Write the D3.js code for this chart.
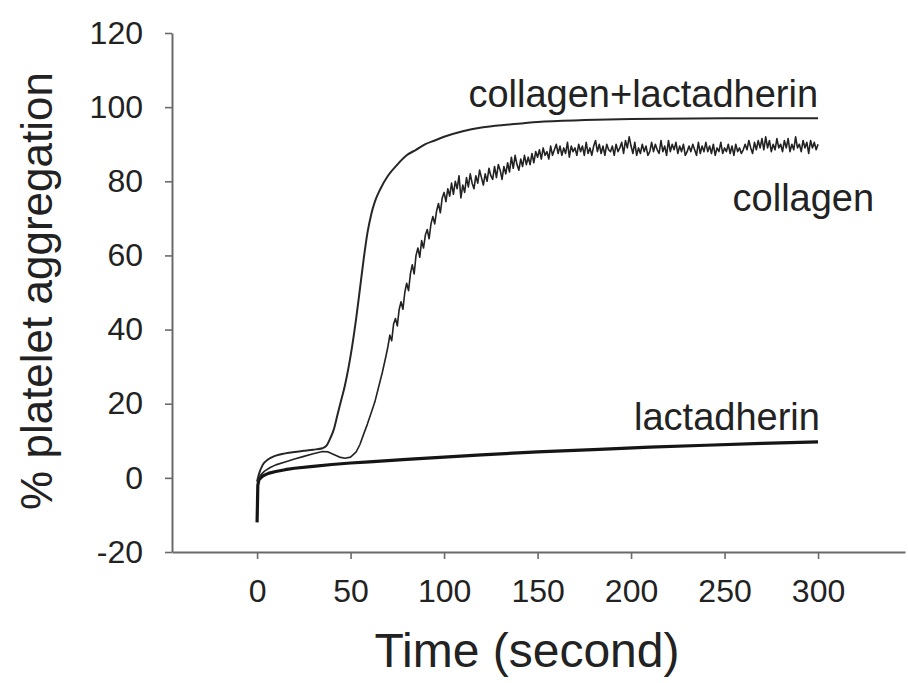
<!DOCTYPE html>
<html>
<head>
<meta charset="utf-8">
<script src="https://cdn.jsdelivr.net/npm/d3@7"></script>
<style>
  html, body { margin: 0; padding: 0; background: #fff; }
  svg { display: block; }
  text { font-family: "Liberation Sans", Arial, sans-serif; fill: #222; }
</style>
</head>
<body>
<svg id="chart" width="908" height="683"></svg>
<script>
// ---- data ----
const xTicks = [0, 50, 100, 150, 200, 250, 300];
const yTicks = [-20, 0, 20, 40, 60, 80, 100, 120];

// collagen + lactadherin: smooth trace [time s, % aggregation]
const collagenLactadherin = [
  [0,-1],[1,1],[3,3.5],[6,5],[10,6],[15,6.6],[20,7],[25,7.3],[30,7.6],[35,8],
  [37,8.6],[39,10.5],[41,13],[43,17],[45,21],[47,25],[49,30],[51,36],[53,43],
  [55,51],[57,59],[59,66],[61,71],[63,74.5],[66,78],[70,81.5],[75,84.5],[80,87],
  [85,88.5],[90,90],[95,91],[100,92],[110,93.5],[120,94.5],[135,95.3],[150,96],
  [175,96.5],[200,96.8],[250,97],[300,97]
];

// collagen alone: early part [time s, % aggregation]
const collagenEarly = [
  [0,-1],[2,0.8],[4,1.8],[7,2.8],[10,3.5],[15,4.3],[20,5.1],[25,5.8],[30,6.5],
  [35,7.1],[38,7],[41,6.3],[44,5.6],[47,5.3],[50,5.6],[53,7],[55,9],[57,11.8],
  [59,14.5],[61,17.5],[63,20.5],[65,24.5],[67,28.5],[69,33],[70,35.5],[71,38.5],
  [72,37],[73,41.5],[74,43],[75,41],[76,45.5],[77,47.5],[78,45.5],[79,50],
  [80,52.5],[81,50.5],[82,55],[83,57.5],[84,55],[85,60],[86,62],[87,59.5],[88,64],
  [89,62],[90,65.5],[91,67],[92,64.5],[93,68.5],[94,70.5],[95,68.5],[96,72],
  [97,74],[98,71.5],[99,75.5]
];
// collagen alone: noisy tail, one reading per second from t = 100 s to 300 s
const collagenTailStart = 100;
const collagenTail = [
  77,74.5,78,76,79.5,76.5,80,78,81.5,75.5,
  79,77,81,78.5,82,79.5,78,81.5,79.5,83,
  81,79,82,80,83.5,81.5,80.5,84,81,84.5,
  83,80.5,84,82,85,82.5,86.5,83.5,87,84.5,
  83,86,84,87,84.5,86.5,84.5,87.5,85,88,
  86.5,88.5,86,89,87,88,86,89.5,87,88.5,
  90,87.5,89.5,87,89,87.5,90.5,86.5,89.5,88,
  89,87,90,88,89.5,87,90.5,87.5,89,87,
  89.5,91,88,90,87.5,89.5,87,90,88.5,88,
  89.5,87,90,88,89,90.5,87.5,91,89,92,
  89.5,87.5,90.5,87,89,87.5,90,88,89.5,87,
  88,90.5,88,90,88.5,87.5,91,88,89.5,87,
  91,88,90,88.5,90.5,87.5,89.5,88,90,87,
  88,89.5,88,90,88.5,87,90.5,87.5,89.5,88,
  90.5,88,89.5,87.5,90,87,89,88,90.5,87.5,
  89,88,90,87.5,89.5,87,90,88,89,87.5,
  88.5,90,88.5,91,89,87.5,90.5,88.5,91,89,
  91.5,88.5,92,89,91,88,90,88.5,91.5,89,
  90,88,91,89,91.5,88,90,88.5,92,89,
  90,88,91,89,90.5,87.5,91,89,90.5,88.5,
  90
];

// lactadherin alone [time s, % aggregation]
const lactadherin = [
  [0,-12],[0.4,-2],[1,-0.5],[3,0.5],[6,1.2],[10,1.7],[15,2.2],[20,2.6],[30,3.1],
  [40,3.6],[50,4],[60,4.3],[80,5],[100,5.6],[120,6.2],[150,7],[183,7.7],
  [210,8.3],[240,8.8],[270,9.3],[300,9.7]
];

const labels = [
  { text: "collagen+lactadherin", t: 300, v: 100, anchor: "end" },
  { text: "collagen", t: 330, v: 72, anchor: "end" },
  { text: "lactadherin", t: 301, v: 13, anchor: "end" }
];

// ---- drawing ----
const svg = d3.select("#chart");
const x = d3.scaleLinear().domain([-45.5, 346.5]).range([172, 905]);
const y = d3.scaleLinear().domain([-20, 120]).range([552, 33]);

const axisColor = "#6a6a6a";
const fmt = d => String(d);

// y axis
const gy = svg.append("g")
  .attr("transform", `translate(${x(-45.5)},0)`)
  .call(d3.axisLeft(y).tickValues(yTicks).tickFormat(fmt)
    .tickSize(7).tickSizeOuter(0).tickPadding(22));
gy.select(".domain").attr("stroke", axisColor).attr("stroke-width", 2);
gy.selectAll(".tick line").attr("stroke", axisColor).attr("stroke-width", 1.6);
gy.selectAll(".tick text")
  .style("font-family", '"Liberation Sans", Arial, sans-serif')
  .style("font-size", "32px").attr("fill", "#222");

// x axis
const gx = svg.append("g")
  .attr("transform", `translate(0,${y(-20)})`)
  .call(d3.axisBottom(x).tickValues(xTicks).tickFormat(fmt)
    .tickSize(7).tickSizeOuter(0).tickPadding(20));
gx.select(".domain").attr("stroke", axisColor).attr("stroke-width", 2);
gx.selectAll(".tick line").attr("stroke", axisColor).attr("stroke-width", 1.6);
gx.selectAll(".tick text")
  .style("font-family", '"Liberation Sans", Arial, sans-serif')
  .style("font-size", "32px").attr("fill", "#222");

// axis titles
svg.append("text")
  .attr("x", 527).attr("y", 667)
  .attr("text-anchor", "middle")
  .style("font-size", "48px")
  .text("Time (second)");

svg.append("text")
  .attr("transform", "translate(52,291) rotate(-90)")
  .attr("text-anchor", "middle")
  .style("font-size", "44px")
  .text("% platelet aggregation");

// series
const line = d3.line().x(d => x(d[0])).y(d => y(d[1]));
const collagen = collagenEarly.concat(
  collagenTail.map((v, i) => [collagenTailStart + i, v])
);

svg.append("path").datum(lactadherin)
  .attr("d", line).attr("fill", "none")
  .attr("stroke", "#151515").attr("stroke-width", 3.2)
  .attr("stroke-linejoin", "round");

svg.append("path").datum(collagen)
  .attr("d", line).attr("fill", "none")
  .attr("stroke", "#222").attr("stroke-width", 1.6)
  .attr("stroke-linejoin", "round");

svg.append("path").datum(collagenLactadherin)
  .attr("d", d3.line().x(d => x(d[0])).y(d => y(d[1])).curve(d3.curveMonotoneX))
  .attr("fill", "none")
  .attr("stroke", "#262626").attr("stroke-width", 2)
  .attr("stroke-linejoin", "round");

// series labels
svg.selectAll("text.series-label").data(labels).enter()
  .append("text").attr("class", "series-label")
  .attr("x", d => x(d.t)).attr("y", d => y(d.v))
  .attr("text-anchor", d => d.anchor)
  .style("font-size", "38px")
  .text(d => d.text);
</script>
</body>
</html>
